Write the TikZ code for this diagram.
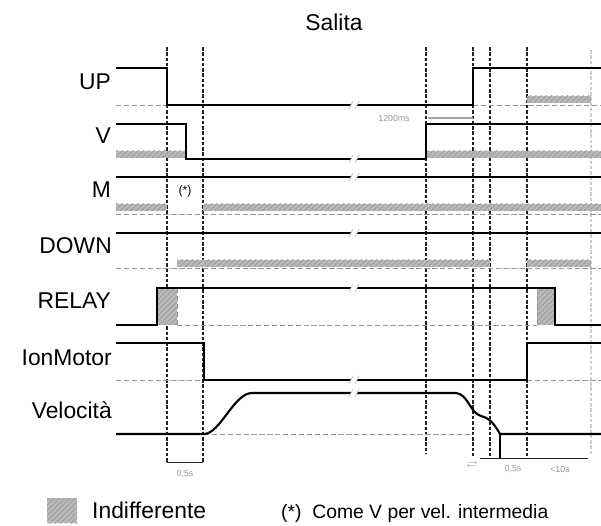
\documentclass[tikz,border=0pt]{standalone}
\usepackage{amssymb}
\usepackage{fontspec}
\setmainfont{Liberation Sans}
\usepackage{tikz}
\usetikzlibrary{patterns, calc}
\definecolor{guidegray}{RGB}{35,35,35}
\definecolor{notegray}{RGB}{150,150,150}
\tikzset{
  sigline/.style={line width=1.2pt, black},
  baseline/.style={line width=0.5pt, notegray, dash pattern=on 3pt off 1.5pt},
  guide/.style={line width=0.6pt, guidegray, dash pattern=on 2pt off 1pt},
  indiff/.style={preaction={fill=gray!55}, pattern=north east lines,
    pattern color=gray!80, draw=none},
  siglabel/.style={anchor=east, font=\fontsize{13}{15}\selectfont},
  tinylabel/.style={font=\fontsize{5}{6}\selectfont, text=notegray, inner sep=1pt},
  brk/.style={line width=0.4pt, gray!45},
}
\newcommand{\breakmark}[1]{%
  \fill[white] (351,#1-4) rectangle (357,#1+4);
  \draw[brk] (349,#1+4) -- (353,#1-4);
  \draw[brk] (355,#1+4) -- (359,#1-4);}

\begin{document}
\begin{tikzpicture}[x=0.02cm, y=-0.02cm]
\useasboundingbox (0,0) rectangle (601,526);

\node[font=\fontsize{13}{15}\selectfont] (title) at (334,22) {Salita};

% ── Guides ──
\draw[guide] (167,47) -- (167,462);
\draw[guide] (203,47) -- (203,462);
\draw[guide] (426,47) -- (426,453);
\draw[guide] (473,47) -- (473,458);
\draw[guide] (490,47) -- (490,458);
\draw[guide] (527,47) -- (527,458);
\draw[guide, gray!40] (591,50) -- (591,455);

% ── Indifferent zones ──
\path[indiff] (527,96) rectangle (591,103);
\path[indiff] (116,151) rectangle (186,158);
\path[indiff] (426,151) rectangle (601,158);
\path[indiff] (116,204) rectangle (167,211);
\path[indiff] (203,204) rectangle (601,211);
\path[indiff] (177,260) rectangle (490,267);
\path[indiff] (527,260) rectangle (591,267);
\path[indiff] (157,288) rectangle (177,325);
\path[indiff] (537,288) rectangle (555,325);

% ── Baselines ──
\draw[baseline] (116,105) -- (167,105);
\draw[baseline] (473,105) -- (601,105);
\draw[baseline] (116,214) -- (601,214);
\draw[baseline] (116,268) -- (601,268);
\draw[baseline] (177,325) -- (537,325);
\draw[baseline] (177,288) -- (177,325);
\draw[baseline] (537,288) -- (537,325);
\draw[baseline] (116,380) -- (204,380);
\draw[baseline] (527,380) -- (601,380);
\draw[baseline] (204,434) -- (473,434);

% ── Signals ──
\draw[sigline] (116,68) -- (167,68) -- (167,105) -- (473,105) -- (473,68) -- (601,68);
\draw[sigline] (116,124) -- (186,124) -- (186,159) -- (426,159) -- (426,124) -- (601,124);
\draw[sigline] (116,177) -- (601,177);
\draw[sigline] (116,233) -- (601,233);
\draw[sigline] (116,325) -- (157,325) -- (157,288) -- (555,288) -- (555,325) -- (601,325);
\draw[sigline] (116,343) -- (204,343) -- (204,380) -- (527,380) -- (527,343) -- (601,343);
\draw[sigline] (116,434) -- (204,434) .. controls (220,434) and (234,393) .. (252,393)
  -- (456,393) .. controls (468,394) and (470,413) .. (481,416)
  .. controls (488,418) and (492,420) .. (500,434) -- (601,434);
\draw[line width=0.8pt] (500,434) -- (500,458);
\draw[line width=1.5pt, gray!70] (428,118) -- (473,118);

% ── Breaks ──
\foreach \yb in {105,159,177,233,288,380,393} {\breakmark{\yb}}

% ── Labels ──
\node[siglabel] (lup) at (117,82) {UP};
\node[siglabel] (lv) at (117,136) {V};
\node[siglabel] (lm) at (117,190) {M};
\node[siglabel] (ldown) at (118,246) {DOWN};
\node[siglabel] (lrelay) at (117,301) {RELAY};
\node[siglabel] (lion) at (118,358) {IonMotor};
\node[siglabel] (lvel) at (118,410) {Velocità};
\node[font=\fontsize{7}{8}\selectfont] (star) at (185,191) {(*)};

% ── Times ──
\draw[line width=0.5pt, guidegray] (167,462) -- (203,462);
\node[tinylabel] (thalf) at (185,474) {0,5s};
\node[tinylabel] (tms) at (394,118) {1200ms};
\draw[line width=0.5pt, guidegray] (480,458) -- (588,458);
\node[tinylabel] (ta) at (472,465) {$\rightleftarrows$};
\node[tinylabel] (thalfb) at (513,469) {0,5s};
\node[tinylabel] (tten) at (560,469) {<10s};

% ── Legend ──
\path[indiff] (47,498) rectangle (77,523);
\node[anchor=west, font=\fontsize{13}{15}\selectfont] (lind) at (86,510) {Indifferente};
\node[anchor=west, font=\fontsize{11}{13}\selectfont] (lnote) at (275,513) {(*)\ \ Come V per vel. intermedia};

\end{tikzpicture}
\end{document}
